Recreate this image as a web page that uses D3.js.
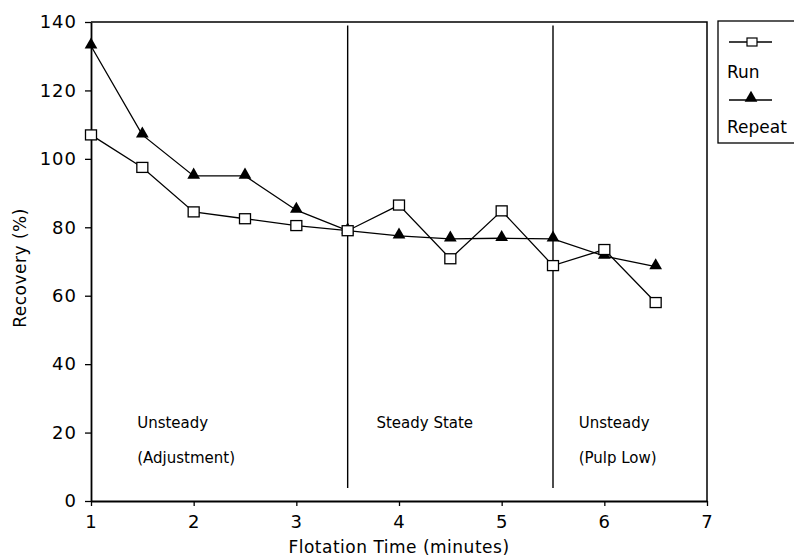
<!DOCTYPE html>
<html>
<head>
<meta charset="utf-8">
<script src="https://cdn.jsdelivr.net/npm/d3@7"></script>
<style>
  body { margin: 0; background: #fff; }
  svg text { font-family: "DejaVu Sans", sans-serif; fill: #000; }
</style>
</head>
<body>
<div id="chart"></div>
<script>
// data
var times = [1, 1.5, 2, 2.5, 3, 3.5, 4, 4.5, 5, 5.5, 6, 6.5];
var run = [107, 97.5, 84.5, 82.5, 80.5, 79, 86.5, 70.8, 84.8, 68.8, 73.5, 58];
var repeat = [133, 107, 95, 95, 85, 79, 77.5, 76.6, 76.8, 76.6, 71.6, 68.5];
var xTicks = [1, 2, 3, 4, 5, 6, 7];
var yTicks = [0, 20, 40, 60, 80, 100, 120, 140];
var dividers = [3.5, 5.5];
var regions = [
    { x: 1.45, lines: ["Unsteady", "(Adjustment)"] },
    { x: 3.78, lines: ["Steady State"] },
    { x: 5.75, lines: ["Unsteady", "(Pulp Low)"] }
];

function draw() {
    let width = 794, height = 557;
    let margin = { left: 91, right: 87, top: 22, bottom: 56 };

    let svg = d3.select("#chart")
        .append("svg")
        .attr("width", width)
        .attr("height", height);

    let x = d3.scaleLinear().domain([1, 7]).range([margin.left, width - margin.right]);
    let y = d3.scaleLinear().domain([0, 140]).range([height - margin.bottom, margin.top]);

    // frame (top and right edges)
    svg.append("path")
        .attr("d", "M" + x(1) + "," + y(140) + "H" + x(7) + "V" + y(0))
        .attr("fill", "none")
        .attr("stroke", "#000")
        .attr("stroke-width", 1.5);

    // axes
    let xAxis = svg.append("g")
        .attr("transform", "translate(0," + y(0) + ")")
        .call(d3.axisBottom(x).tickValues(xTicks).tickFormat(d3.format("d"))
            .tickSize(5).tickSizeOuter(0).tickPadding(8));
    let yAxis = svg.append("g")
        .attr("transform", "translate(" + x(1) + ",0)")
        .call(d3.axisLeft(y).tickValues(yTicks).tickFormat(d3.format("d"))
            .tickSize(6).tickSizeOuter(0).tickPadding(8));

    [xAxis, yAxis].forEach(function (g) {
        g.select(".domain").attr("stroke-width", 1.8);
        g.selectAll("line").attr("stroke-width", 1.3);
        g.selectAll("text")
            .style("font-size", "18px")
            .style("letter-spacing", "1px")
            .style("font-family", "'DejaVu Sans', sans-serif");
    });
    xAxis.selectAll("text").attr("dy", "0.75em");

    // phase dividers
    svg.selectAll("line.divider")
        .data(dividers)
        .enter()
        .append("line")
        .attr("class", "divider")
        .attr("x1", d => x(d)).attr("x2", d => x(d))
        .attr("y1", y(139)).attr("y2", y(3.8))
        .attr("stroke", "#000")
        .attr("stroke-width", 1.4);

    // region labels
    regions.forEach(function (r) {
        r.lines.forEach(function (t, i) {
            svg.append("text")
                .attr("x", x(r.x))
                .attr("y", y(23) + i * 35)
                .attr("dy", "0.35em")
                .style("font-size", "15px")
                .text(t);
        });
    });

    let line = d3.line()
        .x((d, i) => x(times[i]))
        .y(d => y(d));

    svg.append("path")
        .attr("d", line(run))
        .attr("fill", "none")
        .attr("stroke", "#000")
        .attr("stroke-width", 1.3);
    svg.append("path")
        .attr("d", line(repeat))
        .attr("fill", "none")
        .attr("stroke", "#000")
        .attr("stroke-width", 1.3);

    let tri = d3.symbol().type(d3.symbolTriangle).size(70);

    svg.selectAll("path.tri")
        .data(repeat)
        .enter()
        .append("path")
        .attr("class", "tri")
        .attr("d", tri)
        .attr("transform", (d, i) => "translate(" + x(times[i]) + "," + (y(d) - 1) + ")")
        .attr("fill", "#000");

    svg.selectAll("rect.sq")
        .data(run)
        .enter()
        .append("rect")
        .attr("class", "sq")
        .attr("x", (d, i) => x(times[i]) - 5.5)
        .attr("y", d => y(d) - 5)
        .attr("width", 11)
        .attr("height", 10)
        .attr("fill", "#fff")
        .attr("stroke", "#000")
        .attr("stroke-width", 1.3);

    // axis titles
    svg.append("text")
        .attr("x", (x(1) + x(7)) / 2)
        .attr("y", 547)
        .attr("dy", "0.35em")
        .attr("text-anchor", "middle")
        .style("font-size", "17px")
        .style("letter-spacing", "0.5px")
        .text("Flotation Time (minutes)");
    svg.append("text")
        .attr("transform", "translate(20," + 268 + ") rotate(-90)")
        .attr("dy", "0.35em")
        .attr("text-anchor", "middle")
        .style("font-size", "17px")
        .style("letter-spacing", "0.5px")
        .text("Recovery (%)");

    // legend
    let lg = svg.append("g").attr("transform", "translate(718,21)");
    lg.append("rect")
        .attr("width", 90).attr("height", 122)
        .attr("fill", "#fff").attr("stroke", "#000").attr("stroke-width", 1.3);
    lg.append("line").attr("x1", 11).attr("x2", 54).attr("y1", 21).attr("y2", 21)
        .attr("stroke", "#000").attr("stroke-width", 1.3);
    lg.append("rect").attr("x", 29).attr("y", 17).attr("width", 10).attr("height", 8)
        .attr("fill", "#fff").attr("stroke", "#000").attr("stroke-width", 1.2);
    lg.append("text").attr("x", 9).attr("y", 51).attr("dy", "0.35em")
        .style("font-size", "17px").text("Run");
    lg.append("line").attr("x1", 11).attr("x2", 54).attr("y1", 79).attr("y2", 79)
        .attr("stroke", "#000").attr("stroke-width", 1.3);
    lg.append("path").attr("d", tri).attr("transform", "translate(33,77)").attr("fill", "#000");
    lg.append("text").attr("x", 9).attr("y", 106).attr("dy", "0.35em")
        .style("font-size", "17px").text("Repeat");
}

draw();
</script>
</body>
</html>
